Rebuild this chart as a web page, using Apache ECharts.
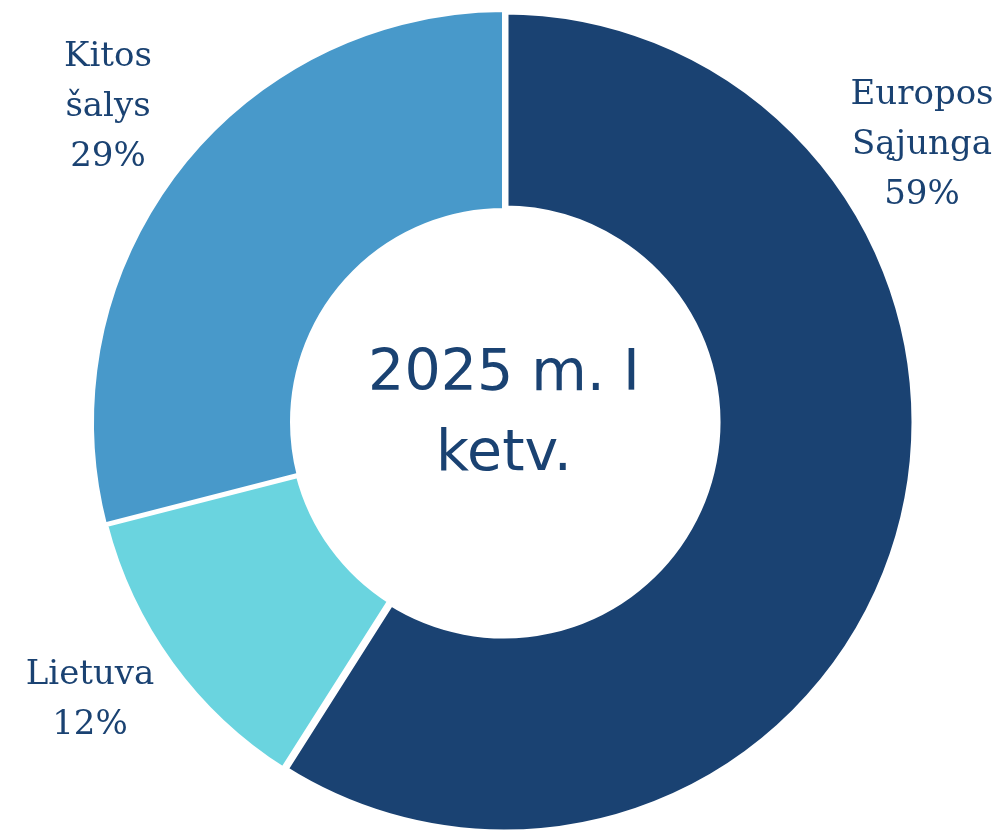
<!DOCTYPE html>
<html>
<head>
<meta charset="utf-8">
<style>
html,body{margin:0;padding:0;background:#fff;}
#c{width:1004px;height:830px;}
</style>
<script src="https://cdn.jsdelivr.net/npm/echarts@6/dist/echarts.min.js"></script>
</head>
<body>
<div id="c"></div>
<script>
const categories = ['Europos\nSąjunga', 'Lietuva', 'Kitos\nšalys'];
const values = [59, 12, 29];
const colors = ['#1A4272', '#6AD4DF', '#4899CA'];
const borders = [9, 6, 4];
const centerText = '2025 m. I\nketv.';
const labelSpots = [[922, 145], [90, 700], [108, 107]];

const chart = echarts.init(document.getElementById('c'), null, {renderer: 'canvas'});
chart.setOption({
  animation: false,
  series: [{
    type: 'pie',
    center: [504, 422],
    radius: [212, 412],
    startAngle: 90,
    clockwise: true,
    label: {
      show: true,
      position: 'outside',
      formatter: p => p.name + '\n' + p.value + '%',
      fontFamily: 'DejaVu Serif',
      fontSize: 34,
      lineHeight: 50,
      color: '#1A4272',
      align: 'center',
      overflow: 'none',
      width: 300
    },
    labelLine: {show: false},
    labelLayout: function (params) {
      const s = labelSpots[params.dataIndex];
      return {x: s[0], y: s[1], align: 'center', verticalAlign: 'middle'};
    },
    data: categories.map((c, i) => ({
      name: c,
      value: values[i],
      itemStyle: {color: colors[i], borderColor: '#fff', borderWidth: borders[i]}
    }))
  }],
  graphic: [{
    type: 'text',
    x: 504,
    y: 415,
    style: {
      text: centerText,
      fontFamily: 'DejaVu Sans',
      fontSize: 57,
      lineHeight: 80,
      fill: '#1A4272',
      align: 'center',
      verticalAlign: 'middle'
    }
  }]
});
</script>
</body>
</html>
